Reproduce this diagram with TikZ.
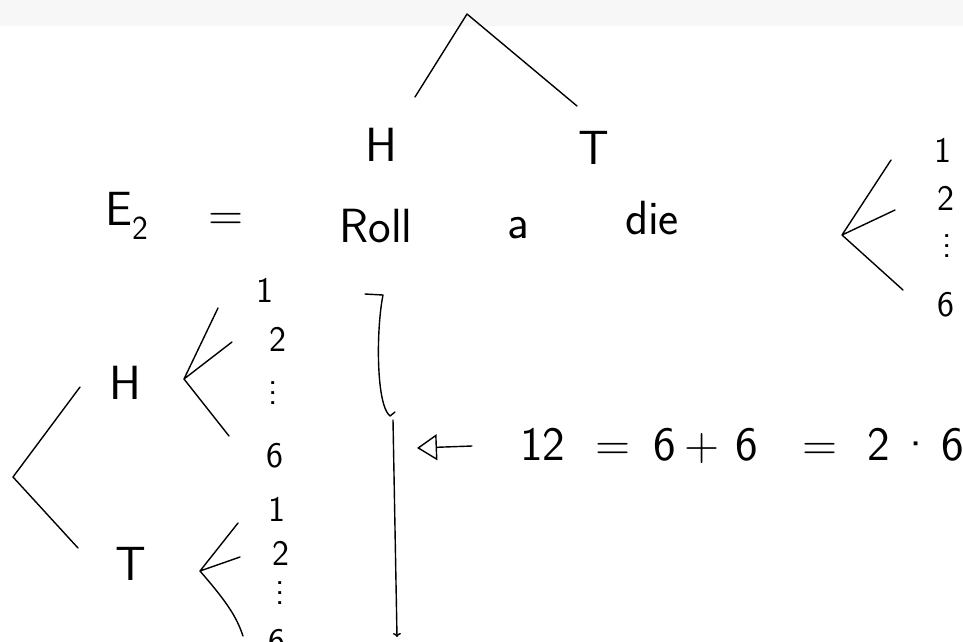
\documentclass[tikz,border=0pt]{standalone}
\usetikzlibrary{arrows.meta}

\begin{document}
\begin{tikzpicture}[x=1pt,y=-1pt,font=\sffamily,>=Latex,
  pen/.style={line width=1.4pt,line cap=round,line join=round},
  big/.style={font=\sffamily\fontsize{48}{48}\selectfont,inner sep=0pt},
  num/.style={font=\sffamily\fontsize{36}{36}\selectfont,inner sep=0pt},
  dots/.style={font=\sffamily\fontsize{36}{10}\selectfont,align=center,inner sep=0pt,
    text height=20pt,text depth=0pt}]
\clip (0,0) rectangle (963,641);
\fill[black!3] (0,0) rectangle (963,26);
% coin toss
\coordinate (coin) at (467,14);
\coordinate (coinH) at (415,97);
\coordinate (coinT) at (577,106);
\draw[pen] (coinH) -- (coin) -- (coinT);
\node[big] (topH) at (381,145) {H};
\node[big] (topT) at (594,148) {T};
% second experiment
\node[big] (event) at (127,216) {E\textsubscript{2}};
\node[big] (eq) at (226,222) {=};
\node[big] (roll) at (376,226) {Roll};
\node[big] (art) at (518,228) {a};
\node[big] (die) at (652,218) {die};
% die outcomes
\coordinate (dfork) at (842,235);
\coordinate (d1) at (891,160);
\coordinate (d2) at (895,210);
\coordinate (d6) at (903,290);
\draw[pen] (d1) -- (dfork) -- (d2) (dfork) -- (d6);
\node[num] (r1) at (943,150) {1};
\node[num] (r2) at (946,198) {2};
\node[dots] (rdots) at (947,247) {.\\.\\.};
\node[num] (r6) at (946,305) {6};
% full tree
\coordinate (root) at (13,477);
\coordinate (rootH) at (80,387);
\coordinate (rootT) at (78,548);
\draw[pen] (rootH) -- (root) -- (rootT);
\node[big] (leftH) at (125,383) {H};
\node[big] (leftT) at (131,564) {T};
\coordinate (hfork) at (184,379);
\coordinate (h1) at (218,308);
\coordinate (h2) at (232,342);
\coordinate (h6) at (229,436);
\draw[pen] (h1) -- (hfork) -- (h2) (hfork) -- (h6);
\coordinate (tfork) at (200,571);
\coordinate (t1) at (238,523);
\coordinate (t2) at (240,557);
\coordinate (t6) at (243,636);
\draw[pen] (t1) -- (tfork) -- (t2) (tfork) .. controls (225,600) and (236,615) .. (t6);
\node[num] (hl1) at (265,290) {1};
\node[num] (hl2) at (278,339) {2};
\node[dots] (hldots) at (273,394) {.\\.\\.};
\node[num] (hl6) at (275,456) {6};
\node[num] (tl1) at (277,509) {1};
\node[num] (tl2) at (281,553) {2};
\node[dots] (tldots) at (280,594) {.\\.\\.};
\node[num] (tl6) at (277,642) {6};
% bracket and count
\draw[pen,-{To[length=4pt,width=8pt]}] (365,294) -- (383,295)
  .. controls (376,330) and (376,405) .. (390,416) -- (395,412)
  (393,420) -- (397,637);
\node[big,anchor=west] (count) at (520,446) {12 \ = \,6\,+\,\,6 \ \ = \ 2\,\textperiodcentered\,6};
\coordinate (arrtip) at (417,448);
\draw[pen,-{Triangle[open,length=20pt,width=26pt]}] ([xshift=-48pt]count.west) -- (arrtip);
\end{tikzpicture}
\end{document}
